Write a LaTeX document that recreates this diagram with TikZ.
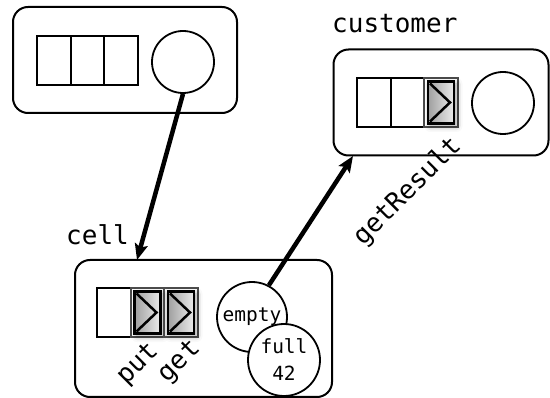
\documentclass[tikz,border=0pt]{standalone}
\usepackage{fontspec}
\newfontfamily\codefont{DejaVu Sans Mono}
\usetikzlibrary{positioning,arrows.meta,shadows.blur}

\tikzset{
  actor/.style={draw, rounded corners=15pt, line width=2pt,
    minimum width=224pt, minimum height=106pt},
  slot/.style={draw, line width=2pt, minimum width=33.5pt,
    minimum height=49pt, inner sep=0pt, outer sep=0pt},
  busy/.style={slot, draw=black!70},
  state/.style={draw, circle, line width=1.8pt, minimum size=62pt,
    inner sep=0pt, fill=white},
  msg/.style={draw, line width=2.5pt, minimum width=26pt, minimum height=42pt,
    inner sep=0pt, left color=gray!75, right color=gray!15,
    blur shadow={shadow xshift=2.5pt, shadow yshift=-2.5pt, shadow blur radius=6pt},
    path picture={\draw[line width=2.5pt]
      ([xshift=2pt,yshift=-2pt]path picture bounding box.north west)
      -- ([xshift=-4pt]path picture bounding box.east)
      -- ([xshift=2pt,yshift=2pt]path picture bounding box.south west);}},
  lbl/.style={font=\codefont\fontsize{26}{28}\selectfont, inner sep=0pt},
  small/.style={font=\codefont\fontsize{19.5}{27}\selectfont},
  call/.style={line width=4.5pt, -{Stealth[length=16pt,width=13pt,inset=3pt]}}
}

\begin{document}
\begin{tikzpicture}[x=1pt, y=-1pt]
  \useasboundingbox (0,0) rectangle (550,398);

  % sender
  \node[actor] (sender) at (125,60) {};
  \node[slot] (s1) at (54,60.5) {};
  \node[slot, right=0pt of s1] (s2) {};
  \node[slot, right=0pt of s2] (s3) {};
  \node[state] (sstate) at (183,62) {};

  % customer
  \node[actor, minimum width=215pt] (cust) at (441,102.5) {};
  \node[lbl, anchor=base west] (custname) at (332,33) {customer};
  \node[slot] (c1) at (374,102.5) {};
  \node[slot, right=0pt of c1] (c2) {};
  \node[busy, right=0pt of c2] (c3) {};
  \node[msg] (cmsg) at (c3) {};
  \node[state] (cstate) at (503,103) {};

  % cell
  \node[actor, minimum width=257pt, minimum height=137pt] (cell) at (203.5,328.5) {};
  \node[lbl, anchor=base west] (cellname) at (66,245) {cell};
  \node[slot] (p0) at (114,312.5) {};
  \node[busy, right=0pt of p0] (p1) {};
  \node[msg] (putmsg) at (p1) {};
  \node[busy, right=0pt of p1] (p2) {};
  \node[msg] (getmsg) at (p2) {};
  \node[lbl, rotate=45] (putname) at ([xshift=-9pt,yshift=-27pt]p1.south) {put};
  \node[lbl, rotate=45] (getname) at ([xshift=-1pt,yshift=-25pt]p2.south) {get};
  \node[state, small, minimum size=70pt] (empty) at (252,317) {empty};
  \node[state, small, minimum size=72pt, align=center] (full) at (284,360) {full\\42};

  % calls
  \coordinate (cellin) at (137,260);
  \coordinate (custin) at (353,156);
  \draw[call] (sstate.south) -- (cellin);
  \draw[call] (empty.62) -- (custin);
  \node[lbl, rotate=45] (getresult) at (408,192) {getResult};
\end{tikzpicture}
\end{document}
